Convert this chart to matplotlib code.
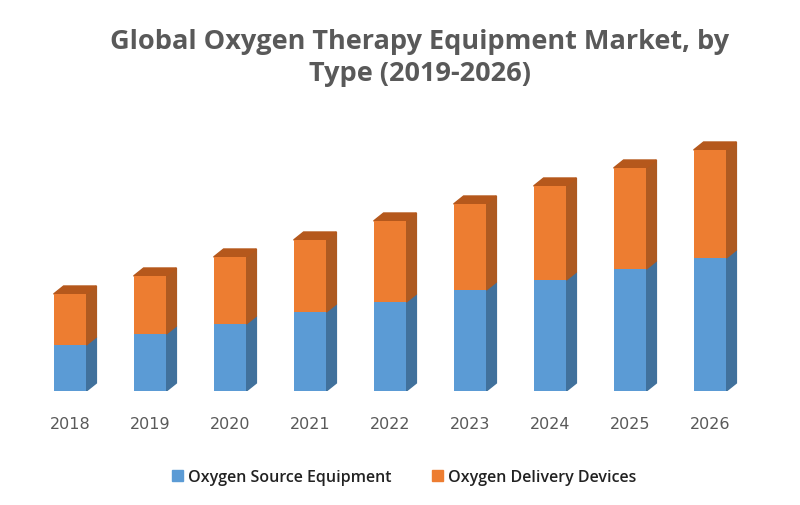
import matplotlib.pyplot as plt
from matplotlib.patches import Patch, Polygon

years = ['2018', '2019', '2020', '2021', '2022', '2023', '2024', '2025', '2026']
source_equipment = [46, 57, 67, 79, 89, 101, 111, 122, 133]
delivery_devices = [51, 58, 67, 72, 81, 86, 94, 101, 108]

blue, blue_side = '#5B9BD5', '#41719C'
orange, orange_side, orange_top = '#ED7D31', '#AE5A21', '#B5581C'
grey = '#595959'

fig = plt.figure(figsize=(8, 5.06), dpi=100)
ax = fig.add_axes([30 / 800, 114 / 506, 720 / 800, 250 / 506])
ax.set_xlim(-0.5, 8.5)
ax.set_ylim(0, 250)

w = 0.41
dx, dy = 0.125, 8
for i, (b, o) in enumerate(zip(source_equipment, delivery_devices)):
    x0, x1 = i - w / 2, i + w / 2
    ax.bar(i, b, w, color=blue, zorder=3)
    ax.bar(i, o, w, bottom=b, color=orange, zorder=3)
    # side faces
    ax.add_patch(Polygon([(x1, 0), (x1 + dx, dy), (x1 + dx, b + dy), (x1, b)],
                         closed=True, color=blue_side, zorder=2))
    ax.add_patch(Polygon([(x1, b), (x1 + dx, b + dy), (x1 + dx, b + o + dy), (x1, b + o)],
                         closed=True, color=orange_side, zorder=2))
    # top face
    t = b + o
    ax.add_patch(Polygon([(x0, t), (x1, t), (x1 + dx, t + dy), (x0 + dx, t + dy)],
                         closed=True, color=orange_top, zorder=2))

ax.set_xticks(range(len(years)))
ax.set_xticklabels(years, fontsize=11.5, color=grey)
ax.tick_params(axis='x', length=0, pad=18)
ax.set_yticks([])
for s in ax.spines.values():
    s.set_visible(False)

fig.text(0.525, 1 - 58 / 506, 'Global Oxygen Therapy Equipment Market, by\nType (2019-2026)',
         ha='center', va='center', fontsize=19.5, fontweight='bold', color=grey,
         family='Open Sans', linespacing=1.3)

handles = [Patch(color=blue), Patch(color=orange)]
fig.legend(handles, ['Oxygen Source Equipment', 'Oxygen Delivery Devices'],
           loc='center', bbox_to_anchor=(0.505, 1 - 478 / 506), ncol=2, frameon=False,
           prop={'family': 'Open Sans', 'size': 11.5, 'weight': 'semibold'},
           handlelength=0.7, handleheight=0.7, handletextpad=0.3,
           columnspacing=2.5, labelcolor='#222222')

fig.savefig('out.png', dpi=100)
